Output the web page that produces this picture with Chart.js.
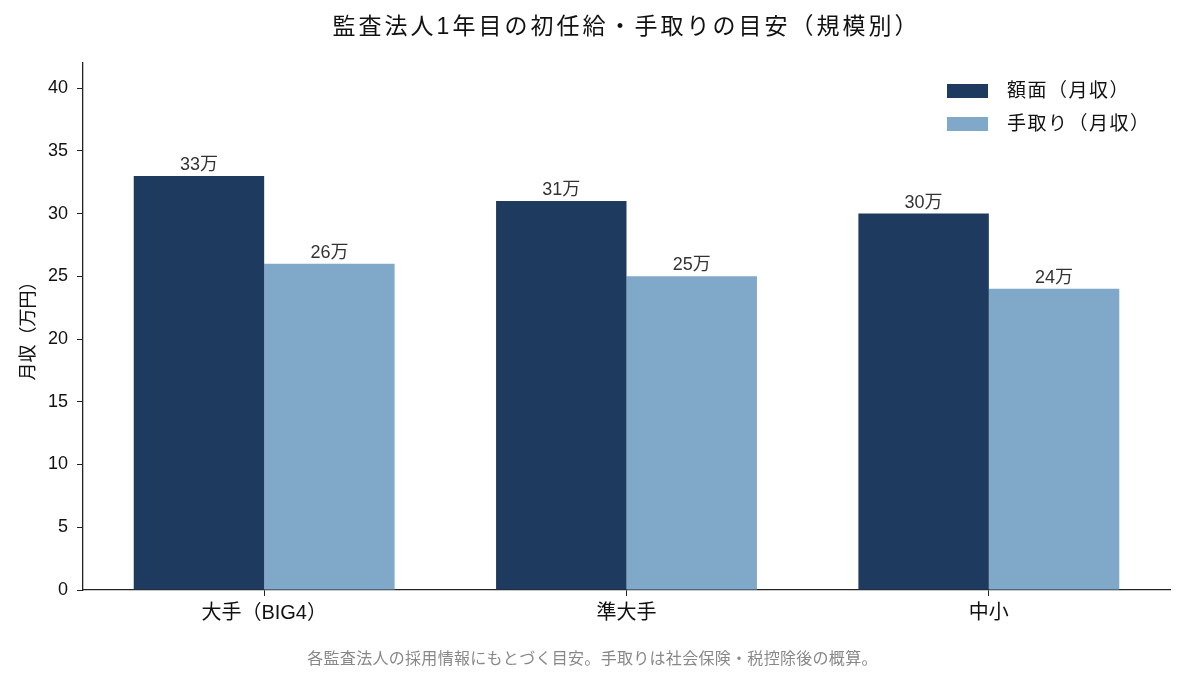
<!DOCTYPE html>
<html>
<head>
<meta charset="utf-8">
<script src="https://cdn.jsdelivr.net/npm/chart.js@4/dist/chart.umd.min.js"></script>
<style>
  html, body { margin: 0; padding: 0; background: #fff; }
  #wrap { width: 1185px; height: 683px; position: relative; }
</style>
</head>
<body>
<div id="wrap"><canvas id="salaryChart"></canvas></div>
<script>
const categories = ['大手（BIG4）', '準大手', '中小'];
const grossValues = [33, 31, 30];
const netValues = [26, 25, 24];
const seriesNames = ['額面（月収）', '手取り（月収）'];
const yTicks = [0, 5, 10, 15, 20, 25, 30, 35, 40];

const FONT = '"Liberation Sans", "Noto Sans CJK JP", sans-serif';
const titleText = '監査法人1年目の初任給・手取りの目安（規模別）';
const noteText = '各監査法人の採用情報にもとづく目安。手取りは社会保険・税控除後の概算。';

// 棒の上の数値ラベル、タイトル、凡例、注記
const extras = {
  id: 'extras',
  afterDatasetsDraw(chart) {
    const ctx = chart.ctx;
    ctx.save();
    ctx.font = '18px ' + FONT;
    ctx.fillStyle = '#333';
    ctx.textAlign = 'center';
    ctx.textBaseline = 'bottom';
    chart.data.datasets.forEach((ds, i) => {
      chart.getDatasetMeta(i).data.forEach((bar, j) => {
        ctx.fillText(ds.data[j] + '万', bar.x, bar.y - 2);
      });
    });
    ctx.restore();
  },
  afterDraw(chart) {
    const ctx = chart.ctx;
    const area = chart.chartArea;
    ctx.save();
    ctx.fillStyle = '#111';
    ctx.textAlign = 'center';
    ctx.textBaseline = 'middle';
    ctx.font = '23px ' + FONT;
    ctx.letterSpacing = '3px';
    ctx.fillText(titleText, (area.left + area.right) / 2, 28);

    ctx.font = '16px ' + FONT;
    ctx.letterSpacing = '0.3px';
    ctx.fillStyle = '#888';
    ctx.fillText(noteText, chart.width / 2, 660);

    // 凡例（グラフ内右上）
    ctx.textAlign = 'left';
    ctx.font = '19px ' + FONT;
    ctx.letterSpacing = '1.5px';
    chart.data.datasets.forEach((ds, i) => {
      const y = 91 + i * 33;
      ctx.fillStyle = ds.backgroundColor;
      ctx.fillRect(947, y - 7, 41, 14);
      ctx.fillStyle = '#111';
      ctx.fillText(ds.label, 1007, y + 1);
    });
    ctx.restore();
  }
};

const axisColor = '#222';

new Chart(document.getElementById('salaryChart'), {
  type: 'bar',
  data: {
    labels: categories,
    datasets: [
      { label: seriesNames[0], data: grossValues, backgroundColor: '#1f3a5f' },
      { label: seriesNames[1], data: netValues, backgroundColor: '#7fa8c9' }
    ]
  },
  options: {
    responsive: true,
    maintainAspectRatio: false,
    animation: false,
    layout: { padding: { top: 63, right: 15, left: 0, bottom: 0 } },
    datasets: { bar: { categoryPercentage: 0.72, barPercentage: 1.0 } },
    plugins: {
      legend: { display: false },
      tooltip: { enabled: false },
      title: { display: false }
    },
    scales: {
      x: {
        offset: true,
        grid: { display: true, offset: false, drawOnChartArea: false, drawTicks: true, tickLength: 6, color: axisColor },
        border: { display: true, color: axisColor, width: 1.3 },
        ticks: { color: '#111', font: { size: 20, family: FONT }, padding: 5 },
        afterFit(scale) { scale.height = 93; }
      },
      y: {
        min: 0,
        max: 42,
        grid: { display: true, drawOnChartArea: false, drawTicks: true, tickLength: 6, color: axisColor },
        border: { display: true, color: axisColor, width: 1.3 },
        ticks: { stepSize: 5, color: '#111', font: { size: 18, family: FONT }, padding: 9 },
        afterBuildTicks(scale) {
          scale.ticks = yTicks.map(v => ({ value: v }));
        },
        title: { display: true, text: '月収（万円）', color: '#111', font: { size: 18, family: FONT }, padding: { top: 18, bottom: 0 } },
        afterFit(scale) { scale.width = 83; }
      }
    }
  },
  plugins: [extras]
});
</script>
</body>
</html>
